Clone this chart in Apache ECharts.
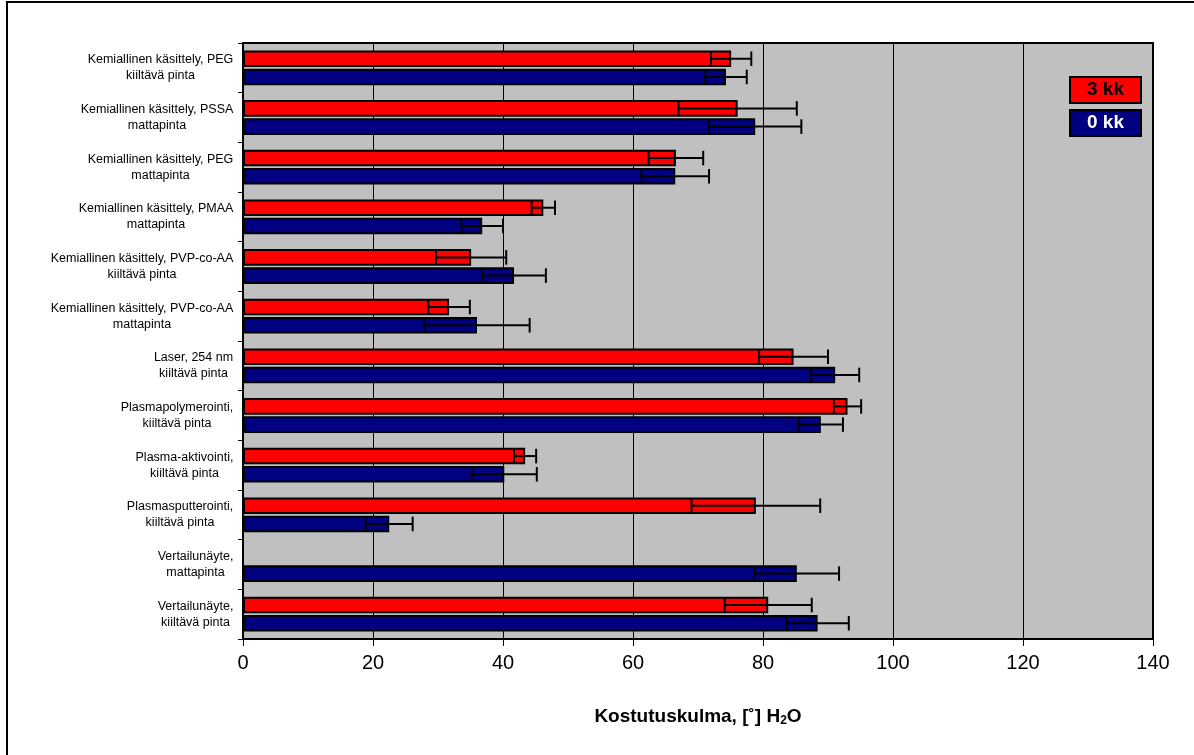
<!DOCTYPE html>
<html>
<head>
<meta charset="utf-8">
<script src="https://cdn.jsdelivr.net/npm/echarts@6/dist/echarts.min.js"></script>
<style>
html,body{margin:0;padding:0;background:#fff;}
#chart{width:1194px;height:755px;}
</style>
</head>
<body>
<div id="chart"></div>
<script>
const categories = [
  'Kemiallinen käsittely, PEG\nkiiltävä pinta',
  'Kemiallinen käsittely, PSSA\nmattapinta',
  'Kemiallinen käsittely, PEG\nmattapinta',
  'Kemiallinen käsittely, PMAA\nmattapinta',
  'Kemiallinen käsittely, PVP-co-AA\nkiiltävä pinta',
  'Kemiallinen käsittely, PVP-co-AA\nmattapinta',
  'Laser, 254 nm\nkiiltävä pinta',
  'Plasmapolymerointi,\nkiiltävä pinta',
  'Plasma-aktivointi,\nkiiltävä pinta',
  'Plasmasputterointi,\nkiiltävä pinta',
  'Vertailunäyte,\nmattapinta',
  'Vertailunäyte,\nkiiltävä pinta'
];
const seriesNames = ['3 kk', '0 kk'];
const values3kk = [75.1, 76.1, 66.6, 46.2, 35.1, 31.7, 84.7, 93.0, 43.4, 78.9, null, 80.8];
const err3kk    = [3.1, 9.1, 4.2, 1.8, 5.4, 3.2, 5.3, 2.1, 1.7, 9.9, null, 6.7];
const values0kk = [74.3, 78.8, 66.5, 36.8, 41.7, 36.0, 91.1, 88.9, 40.2, 22.5, 85.2, 88.4];
const err0kk    = [3.2, 7.1, 5.2, 3.2, 4.9, 8.1, 3.7, 3.4, 5.0, 3.6, 6.5, 4.8];
const xTicks = [0, 20, 40, 60, 80, 100, 120, 140];

const FONT = '"Liberation Sans", Arial, sans-serif';
const LABEL_SIZE = 12.5;

// measure label blocks so each label is right-aligned as a block with centered lines
const cv = document.createElement('canvas').getContext('2d');
cv.font = LABEL_SIZE + 'px ' + FONT;
const rich = {};
categories.forEach((c, i) => {
  const w = Math.max(...c.split('\n').map(l => cv.measureText(l).width));
  rich['s' + i] = {width: Math.ceil(w) + 1, align: 'center', fontSize: LABEL_SIZE, lineHeight: 16, fontFamily: FONT, color: '#000'};
});

const BAR_GAP_CAT = 0.3, BAR_GAP = 0.1, NSER = 2;

function errData(vals, errs) {
  return vals.map((v, i) => v == null ? [null, i, null] : [v - errs[i], i, v + errs[i]]);
}

function makeErrRender(sIdx) {
  return function (params, api) {
    if (api.value(0) == null || isNaN(api.value(0))) return;
    const cat = api.value(1);
    const p0 = api.coord([api.value(0), cat]);
    const p1 = api.coord([api.value(2), cat]);
    const band = api.size([0, 1])[1];
    const bw = band * (1 - BAR_GAP_CAT) / (NSER + (NSER - 1) * BAR_GAP);
    const total = bw * NSER + bw * BAR_GAP * (NSER - 1);
    const cy = p0[1] - total / 2 + sIdx * bw * (1 + BAR_GAP) + bw / 2;
    const h = bw / 2 - 1;
    const st = {stroke: '#000', lineWidth: 2};
    return {
      type: 'group',
      children: [
        {type: 'line', shape: {x1: p0[0], y1: cy, x2: p1[0], y2: cy}, style: st},
        {type: 'line', shape: {x1: p0[0], y1: cy - h, x2: p0[0], y2: cy + h}, style: st},
        {type: 'line', shape: {x1: p1[0], y1: cy - h, x2: p1[0], y2: cy + h}, style: st}
      ]
    };
  };
}

const legendBox = (bg, fg) => ({
  backgroundColor: bg, borderColor: '#000', borderWidth: 2, color: fg,
  fontWeight: 'bold', fontSize: 19, lineHeight: 21, padding: [2, 16, 1, 16], fontFamily: FONT
});

const chart = echarts.init(document.getElementById('chart'), null, {renderer: 'canvas'});
chart.setOption({
  animation: false,
  backgroundColor: '#fff',
  textStyle: {fontFamily: FONT},
  grid: {left: 243, right: 41, top: 43, bottom: 116, show: true, backgroundColor: '#c0c0c0', borderColor: '#000', borderWidth: 2, containLabel: false},
  legend: {
    orient: 'vertical', right: 52, top: 76, padding: 0, itemGap: 5, itemWidth: 0, itemHeight: 0, selectedMode: false,
    data: [
      {name: seriesNames[0], icon: 'none', textStyle: legendBox('#ff0000', '#000')},
      {name: seriesNames[1], icon: 'none', textStyle: legendBox('#000080', '#fff')}
    ]
  },
  xAxis: {
    type: 'value', min: xTicks[0], max: xTicks[xTicks.length - 1], interval: 20,
    axisLine: {show: true, lineStyle: {color: '#000', width: 2}},
    axisTick: {show: true, length: 7, lineStyle: {color: '#000', width: 1}},
    axisLabel: {fontSize: 20, color: '#000', margin: 14, fontFamily: FONT},
    splitLine: {show: true, lineStyle: {color: '#000', width: 1}},
    name: 'Kostutuskulma, [˚] H{sub|2}O',
    nameLocation: 'middle', nameGap: 67,
    nameTextStyle: {fontSize: 19, fontWeight: 'bold', color: '#000', fontFamily: FONT,
      rich: {sub: {fontSize: 12, fontWeight: 'bold', color: '#000', fontFamily: FONT, padding: [9, 0, 0, 0]}}}
  },
  yAxis: {
    type: 'category', inverse: true, data: categories,
    axisLine: {show: true, lineStyle: {color: '#000', width: 2}},
    axisTick: {show: true, length: 5, alignWithLabel: false, lineStyle: {color: '#000', width: 1}},
    axisLabel: {
      margin: 9, interval: 0, align: 'right',
      formatter: (v, i) => v.split('\n').map(l => '{s' + i + '|' + l + '}').join('\n'),
      rich: rich
    },
    splitLine: {show: false}
  },
  series: [
    {name: seriesNames[0], type: 'bar', data: values3kk, barCategoryGap: '30%', barGap: '10%',
     itemStyle: {color: '#ff0000', borderColor: '#000', borderWidth: 2}},
    {name: seriesNames[1], type: 'bar', data: values0kk, barCategoryGap: '30%', barGap: '10%',
     itemStyle: {color: '#000080', borderColor: '#000', borderWidth: 2}},
    {type: 'custom', renderItem: makeErrRender(0), data: errData(values3kk, err3kk), encode: {x: [0, 2], y: 1}, z: 10, silent: true},
    {type: 'custom', renderItem: makeErrRender(1), data: errData(values0kk, err0kk), encode: {x: [0, 2], y: 1}, z: 10, silent: true}
  ],
  graphic: [
    {type: 'rect', shape: {x: 7, y: 2, width: 1400, height: 1000}, style: {fill: null, stroke: '#000', lineWidth: 2}, silent: true, z: 100}
  ]
});
</script>
</body>
</html>
